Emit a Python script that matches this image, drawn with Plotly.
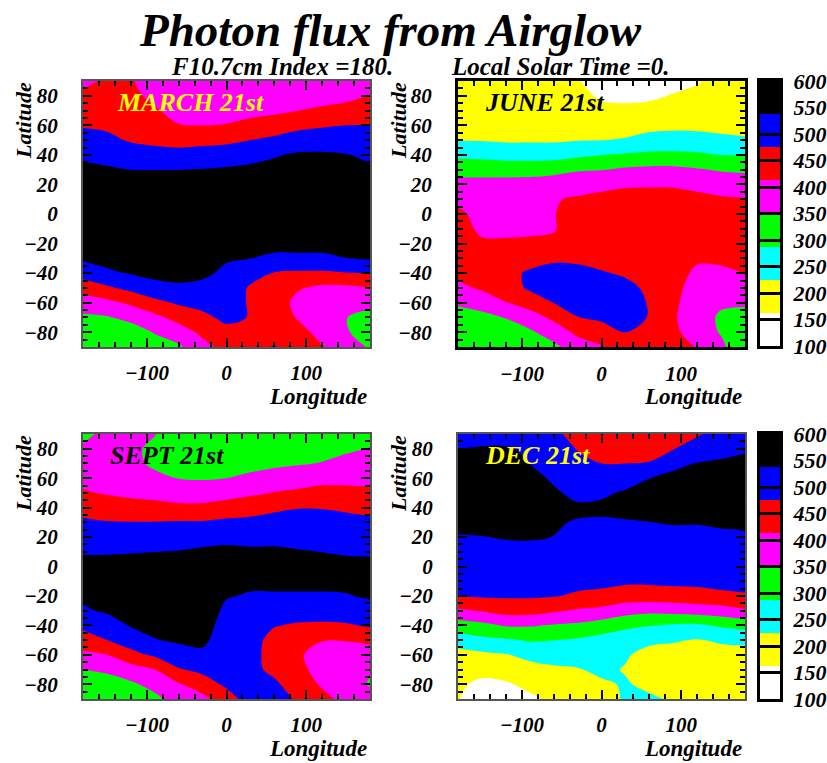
import numpy as np
import plotly.graph_objects as go

longitudes = [-180, -150, -120, -90, -60, -30, 0, 30, 60, 90, 120, 150, 180]
latitudes = [90, 80, 70, 60, 50, 40, 30, 20, 10, 0, -10, -20, -30, -40, -50, -60, -70, -80, -90]

# Photon flux read per longitude column, north to south
march = [
 [400,424,447,470,497,525,553,570,580,585,580,565,545,502,438,381,340,310,290],
 [420,437,455,466,487,516,545,565,580,585,580,570,555,528,465,396,345,315,295],
 [418,428,440,455,470,501,537,560,575,585,585,575,560,541,492,423,367,320,290],
 [380,397,419,445,463,494,537,558,575,585,585,578,565,552,520,458,397,354,320],
 [360,372,390,415,455,494,537,558,575,585,585,578,565,552,530,483,433,385,340],
 [360,372,392,412,458,500,540,560,575,585,585,575,560,545,527,496,460,425,395],
 [358,370,392,415,462,505,545,565,575,580,570,555,541,530,515,498,490,455,430],
 [358,370,395,430,475,518,550,565,575,575,565,550,538,498,468,470,472,460,460],
 [358,372,400,445,487,533,555,565,572,572,565,550,530,472,455,445,442,450,478],
 [360,380,412,460,503,545,560,570,575,575,565,550,530,465,418,395,408,430,450],
 [360,385,425,468,509,545,560,570,575,575,565,550,530,465,400,375,378,395,415],
 [365,395,435,475,505,540,555,565,572,572,565,553,537,472,400,368,351,356,375],
 [370,415,445,475,500,528,545,560,570,572,565,555,545,475,412,365,335,320,345],
]
june = [
 [180,190,198,208,224,275,327,370,403,420,428,432,435,425,400,360,320,300,295],
 [185,192,200,212,222,268,333,365,385,400,405,418,440,438,420,380,330,305,295],
 [185,192,198,208,218,260,330,368,385,398,404,418,450,460,445,410,353,310,295],
 [180,190,198,208,218,260,330,370,388,400,405,420,455,482,484,440,385,340,300],
 [175,185,195,205,218,260,335,375,408,410,408,425,468,490,492,476,425,380,335],
 [165,178,190,205,223,275,345,385,420,435,445,450,465,490,498,490,474,425,385],
 [145,155,175,198,224,287,348,395,430,440,445,450,462,478,495,500,485,450,408],
 [140,150,175,198,230,293,360,407,430,440,445,450,458,470,485,495,490,475,455],
 [142,155,175,208,245,300,365,408,430,440,445,450,455,460,468,472,473,462,440],
 [150,165,185,212,248,300,365,408,428,435,440,445,445,440,432,425,420,425,432],
 [160,170,190,212,245,297,355,400,425,435,440,435,422,400,385,378,375,385,410],
 [175,180,195,212,235,287,345,385,420,430,435,432,420,405,375,358,342,345,365],
 [180,185,195,210,230,287,340,380,416,425,430,428,420,414,385,358,330,310,295],
]
sept = [
 [335,358,372,395,418,453,485,510,533,555,558,547,530,490,445,400,350,325,305],
 [365,370,385,395,408,443,478,507,533,555,565,560,545,510,475,412,360,325,305],
 [352,360,372,388,400,435,477,505,535,558,570,568,555,542,505,457,385,340,310],
 [352,340,335,370,395,430,477,507,537,560,572,570,562,552,535,485,412,370,335],
 [310,320,330,348,385,425,480,510,540,560,572,575,570,562,545,515,470,407,375],
 [305,315,330,345,385,425,480,520,545,560,570,575,572,570,550,525,490,445,395],
 [310,320,332,350,395,432,490,525,548,558,552,541,525,505,505,505,500,487,445],
 [315,325,338,358,402,450,490,523,545,555,548,533,515,505,495,492,490,495,505],
 [318,328,342,368,415,465,495,525,545,555,548,533,510,478,458,455,462,485,505],
 [320,332,346,380,425,473,498,520,541,555,548,533,505,468,435,420,425,445,465],
 [325,335,352,395,432,473,495,520,537,553,548,533,505,465,415,390,395,405,430],
 [330,342,365,395,430,465,495,520,533,550,548,535,510,468,415,385,370,380,395],
 [335,352,370,395,425,458,487,515,533,548,548,543,520,482,425,385,355,345,375],
]
dec = [
 [520,537,555,568,575,570,555,534,520,510,495,477,402,323,251,205,185,172,165],
 [515,542,560,570,575,570,555,536,522,510,498,482,417,334,273,212,180,150,135],
 [515,542,560,570,575,568,555,541,522,510,498,482,435,355,280,222,190,155,135],
 [505,530,537,555,570,565,555,543,520,510,498,482,435,355,293,240,205,178,150],
 [490,505,515,530,545,562,541,537,520,510,498,478,420,345,288,250,215,195,175],
 [450,472,490,508,525,545,535,515,505,498,490,468,405,338,280,245,222,200,180],
 [430,450,475,500,528,550,530,515,505,498,488,462,395,322,265,250,235,218,200],
 [430,450,475,510,545,555,533,518,505,498,485,445,375,300,255,230,222,229,232],
 [435,455,478,537,555,550,537,520,505,498,485,445,365,290,235,210,205,215,232],
 [455,473,525,550,560,550,541,523,510,500,488,450,370,280,230,205,190,200,220],
 [470,495,540,555,560,550,540,525,512,500,488,455,378,278,222,200,185,190,200],
 [490,520,545,555,558,550,545,527,515,502,490,465,385,295,232,205,190,190,195],
 [505,533,548,555,558,553,545,530,518,505,492,470,405,310,235,208,195,190,195],
]

levels = [100, 162.5, 225, 287.5, 350, 412.5, 475, 537.5, 600]
band_colors = ["#ffffff", "#ffff00", "#00ffff", "#00ff00", "#ff00ff", "#ff0000", "#0000ff", "#000000"]
cbar_ticks = [100, 150, 200, 250, 300, 350, 400, 450, 500, 550, 600]
lat_ticks = [-80, -60, -40, -20, 0, 20, 40, 60, 80]
lon_ticks = [-100, 0, 100]

panels = [
    ("MARCH 21st", march, "#ffff00", 83, 370, 81, 347, 115, 102, "#555555", 2),
    ("JUNE 21st", june, "#000000", 458, 745, 81, 347, 483, 102, "#000000", 3),
    ("SEPT 21st", sept, "#000000", 83, 370, 434, 699, 108, 455, "#555555", 2),
    ("DEC 21st", dec, "#ffff00", 458, 745, 434, 699, 483, 455, "#555555", 2),
]

W, H = 827, 763
FONT = "Liberation Serif"


def bi(s):
    return f"<b><i>{s}</i></b>"


cs = []
for i, c in enumerate(band_colors):
    cs += [[i / 8, c], [(i + 1) / 8, c]]

fig = go.Figure()
annotations = []


def text(s, x, y, size, color="#000000", anchor="left", angle=0):
    annotations.append(dict(text=bi(s), x=x / W, y=1 - y / H, xref="paper", yref="paper",
                            showarrow=False, xanchor=anchor, yanchor="middle", textangle=angle,
                            font=dict(family=FONT, size=size, color=color)))


layout = {}
n = 0
for name, cols, tcolor, x0, x1, y0, y1, tx, ty, fc, fw in panels:
    n += 1
    sfx = "" if n == 1 else str(n)
    fig.add_trace(go.Contour(
        x=longitudes, y=latitudes, z=np.array(cols).T.tolist(),
        colorscale=cs, zmin=100, zmax=600, showscale=False,
        autocontour=False, contours=dict(start=162.5, end=537.5, size=62.5, coloring="fill", showlines=False),
        line=dict(width=0), xaxis="x" + sfx, yaxis="y" + sfx))
    layout["xaxis" + sfx] = dict(
        domain=[x0 / W, x1 / W], range=[-180, 180], anchor="y" + sfx, tickvals=lon_ticks,
        ticks="inside", ticklen=9, tickwidth=2, tickcolor="#000", mirror="allticks",
        showline=True, linecolor=fc, linewidth=fw, showgrid=False, zeroline=False,
        ticklabelstandoff=6,
        minor=dict(tickvals=list(range(-180, 181, 20)), ticks="inside", ticklen=5, tickwidth=2, tickcolor="#000"),
        tickfont=dict(family=FONT, size=21, color="#000", weight="bold", style="italic"))
    layout["yaxis" + sfx] = dict(
        domain=[1 - y1 / H, 1 - y0 / H], range=[-90, 90], anchor="x" + sfx, tickvals=lat_ticks,
        ticks="inside", ticklen=9, tickwidth=2, tickcolor="#000", mirror="allticks",
        showline=True, linecolor=fc, linewidth=fw, showgrid=False, zeroline=False,
        ticklabelstandoff=19,
        minor=dict(tickvals=list(range(-90, 91, 5)), ticks="inside", ticklen=5, tickwidth=2, tickcolor="#000"),
        tickfont=dict(family=FONT, size=21, color="#000", weight="bold", style="italic"))
    text(name, tx, ty, 26, tcolor)
    text("Longitude", x1 - 1, y1 + 49, 23, anchor="right")
    text("Latitude", x0 - 60, y0 + 40, 22, anchor="center", angle=-90)

# Colour bars
for k, (y0, y1) in enumerate([(81, 346), (434, 699)]):
    sfx = str(5 + k)
    fig.add_trace(go.Heatmap(
        x=[0, 1], y=levels, z=[[(levels[i] + levels[i + 1]) / 2] for i in range(8)],
        colorscale=cs, zmin=100, zmax=600, showscale=False, xaxis="x" + sfx, yaxis="y" + sfx))
    layout["xaxis" + sfx] = dict(domain=[759.5 / W, 780 / W], range=[0, 1], anchor="y" + sfx, showticklabels=False,
                                 ticks="", showline=True, linecolor="#000", linewidth=3, mirror=True,
                                 showgrid=False, zeroline=False)
    layout["yaxis" + sfx] = dict(domain=[1 - y1 / H, 1 - y0 / H], range=[100, 600], anchor="x" + sfx, side="right",
                                 tickvals=cbar_ticks, ticks="inside", ticklen=21, tickwidth=3, tickcolor="#000",
                                 showline=True, linecolor="#000", linewidth=3, mirror=True,
                                 showgrid=False, zeroline=False, ticklabelstandoff=6,
                                 tickfont=dict(family=FONT, size=22, color="#000", weight="bold", style="italic"))

text("Photon flux from Airglow", 390, 30, 47, anchor="center")
text("F10.7cm Index =180.", 282, 66, 25, anchor="center")
text("Local Solar Time =0.", 560, 66, 25, anchor="center")

fig.update_layout(width=W, height=H, margin=dict(l=0, r=0, t=0, b=0, autoexpand=False),
                  paper_bgcolor="#fff", plot_bgcolor="#fff",
                  showlegend=False, annotations=annotations, **layout)
fig.write_html("out.html", config={"displayModeBar": False},
               post_script="document.body.style.margin='0';document.body.style.overflow='hidden';")
